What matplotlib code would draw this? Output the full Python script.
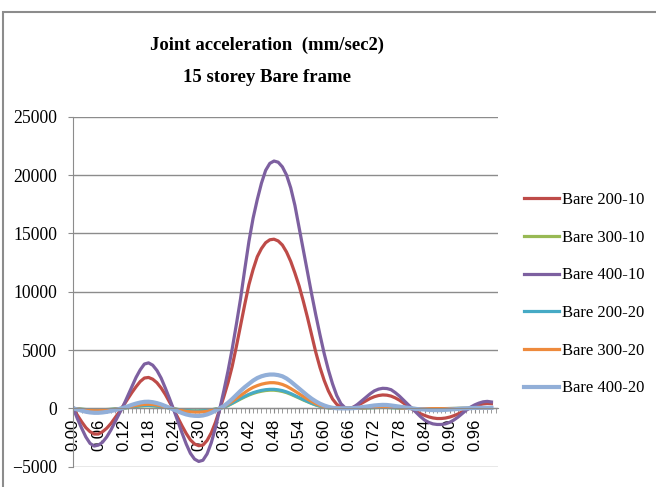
import matplotlib
matplotlib.use("Agg")
import matplotlib.pyplot as plt
from matplotlib.patches import Rectangle
from matplotlib.ticker import MultipleLocator

# time steps (sec), 0.00 .. 1.00
t = [round(0.01 * i, 2) for i in range(101)]

bare_200_10 = [0, -600, -1150, -1650, -2000, -2200, -2200, -2000, -1700, -1300,
               -800, -300, 250, 800, 1350, 1850, 2300, 2600, 2650, 2500,
               2200, 1750, 1200, 550, -100, -800, -1500, -2150, -2700, -3050,
               -3200, -3150, -2750, -2100, -1200, -100, 1000, 2200, 3600, 5300,
               7100, 8900, 10600, 11900, 13000, 13700, 14200, 14450, 14500, 14350,
               14000, 13400, 12600, 11600, 10500, 9200, 7800, 6300, 4800, 3500,
               2400, 1500, 800, 350, 100, 0, 0, 100, 250, 450,
               650, 850, 1000, 1100, 1150, 1130, 1050, 900, 700, 450,
               200, -50, -250, -450, -600, -730, -820, -870, -870, -830,
               -750, -630, -480, -300, -120, 50, 200, 300, 380, 420, 400]
bare_300_10 = [0, -40, -70, -100, -120, -130, -130, -120, -100, -80,
               -50, -20, 20, 60, 110, 160, 200, 225, 230, 215,
               180, 140, 90, 30, -40, -90, -140, -180, -200, -210,
               -210, -195, -165, -120, -60, 0, 90, 240, 420, 610,
               800, 980, 1140, 1280, 1390, 1470, 1530, 1560, 1560, 1520,
               1450, 1350, 1210, 1050, 890, 720, 570, 420, 290, 180,
               100, 45, 15, 0, 0, 0, 0, 10, 20, 30,
               40, 55, 65, 75, 80, 75, 65, 50, 35, 15,
               0, -10, -20, -25, -30, -30, -30, -30, -25, -20,
               -15, -10, -5, 0, 0, 5, 10, 15, 15, 15, 15]
bare_400_10 = [0, -900, -1700, -2450, -3000, -3230, -3150, -2900, -2450, -1850,
               -1150, -450, 250, 1050, 1850, 2650, 3300, 3800, 3900, 3700,
               3250, 2600, 1750, 850, -100, -1100, -2100, -3050, -3850, -4350,
               -4550, -4450, -3900, -2950, -1650, -100, 1500, 3200, 5100, 7200,
               9400, 11900, 14300, 16300, 17900, 19300, 20400, 21000, 21200, 21100,
               20700, 20000, 18900, 17400, 15500, 13600, 11700, 9800, 8000, 6300,
               4700, 3300, 2100, 1100, 400, 50, 0, 100, 350, 650,
               950, 1250, 1500, 1650, 1720, 1700, 1600, 1350, 1050, 700,
               350, 0, -350, -700, -1000, -1200, -1330, -1380, -1380, -1330,
               -1200, -1000, -750, -450, -150, 100, 300, 450, 560, 600, 550]
bare_200_20 = [0, -40, -80, -110, -140, -150, -150, -140, -120, -90,
               -60, -20, 20, 70, 130, 180, 220, 245, 250, 235,
               200, 150, 100, 30, -40, -100, -150, -190, -220, -235,
               -230, -215, -180, -130, -70, 0, 100, 260, 450, 650,
               850, 1030, 1200, 1340, 1450, 1540, 1600, 1630, 1630, 1590,
               1520, 1410, 1270, 1100, 930, 760, 600, 440, 300, 190,
               110, 50, 20, 0, 0, 0, 0, 10, 20, 30,
               50, 60, 70, 85, 90, 85, 70, 55, 40, 20,
               0, -10, -20, -25, -30, -30, -30, -30, -25, -20,
               -15, -10, -5, 0, 0, 5, 10, 15, 20, 20, 20]
bare_300_20 = [0, -50, -100, -140, -180, -200, -200, -180, -150, -120,
               -80, -30, 30, 100, 180, 250, 300, 340, 350, 330,
               280, 210, 130, 40, -50, -130, -200, -260, -300, -320,
               -320, -300, -250, -180, -100, 0, 150, 360, 600, 850,
               1100, 1350, 1600, 1800, 1950, 2070, 2150, 2200, 2200, 2150,
               2050, 1900, 1700, 1480, 1250, 1020, 800, 590, 400, 250,
               150, 70, 30, 0, 0, 0, 0, 10, 20, 40,
               60, 80, 100, 110, 120, 110, 100, 80, 50, 20,
               0, -10, -20, -20, -20, -20, -20, -20, -20, -20,
               -20, -15, -10, -5, 0, 0, 5, 10, 15, 20, 20]
bare_400_20 = [0, -100, -200, -290, -350, -380, -380, -350, -300, -230,
               -150, -50, 50, 170, 300, 410, 500, 560, 570, 530,
               450, 340, 200, 50, -100, -250, -400, -520, -600, -640,
               -650, -610, -520, -380, -200, 0, 200, 480, 800, 1150,
               1500, 1820, 2100, 2380, 2600, 2750, 2850, 2900, 2900, 2850,
               2750, 2560, 2300, 2000, 1700, 1400, 1100, 830, 600, 400,
               250, 130, 50, 10, 0, 0, 0, 20, 50, 100,
               150, 200, 250, 280, 300, 290, 250, 200, 150, 100,
               50, 0, -50, -80, -100, -130, -150, -150, -150, -130,
               -100, -80, -50, -20, 0, 20, 40, 50, 50, 50, 50]

series = [("Bare 200-10", bare_200_10, "#BE4B48"),
          ("Bare 300-10", bare_300_10, "#98B954"),
          ("Bare 400-10", bare_400_10, "#7D60A0"),
          ("Bare 200-20", bare_200_20, "#46AAC5"),
          ("Bare 300-20", bare_300_20, "#EE8A3C"),
          ("Bare 400-20", bare_400_20, "#92AFD8")]

serif = ["Liberation Serif", "DejaVu Serif"]
fig = plt.figure(figsize=(6.56, 4.87), dpi=100)
ax = fig.add_axes([73.3 / 656, 1 - 466.7 / 487, (497.7 - 73.3) / 656, (466.7 - 116.7) / 487])

for name, vals, col in series:
    lw = 3.0 if name == "Bare 400-20" else 2.3
    ax.plot(t, vals, color=col, lw=lw, label=name, solid_joinstyle="round")

ax.set_xlim(0, 1.015)
ax.set_ylim(-5000, 25000)
ax.yaxis.set_major_locator(MultipleLocator(5000))
ax.grid(axis="y", color="#8c8c8c", lw=1)
ax.set_axisbelow(True)

for s in ["top", "right"]:
    ax.spines[s].set_visible(False)
ax.spines["left"].set_color("#8c8c8c")
ax.spines["bottom"].set_color("#8c8c8c")
ax.spines["bottom"].set_position(("data", 0))

xt = [round(0.06 * i, 2) for i in range(17)]
ax.set_xticks(xt)
ax.set_xticklabels(["%.2f" % v for v in xt], rotation=90,
                   family=["Liberation Sans", "DejaVu Sans"], fontsize=12)
ax.xaxis.set_minor_locator(MultipleLocator(0.01))
ax.tick_params(axis="x", which="both", direction="out", length=3.5, color="#8c8c8c", pad=4)
ax.tick_params(axis="y", direction="out", length=3.5, color="#8c8c8c", pad=8)
for lab in ax.get_yticklabels():
    lab.set_family(serif)
    lab.set_fontsize(12.7)

fig.text(267 / 656, 1 - 45 / 487, "Joint acceleration  (mm/sec2)",
         ha="center", va="center", family=serif, fontweight="bold", fontsize=13.5)
fig.text(267 / 656, 1 - 77 / 487, "15 storey Bare frame",
         ha="center", va="center", family=serif, fontweight="bold", fontsize=13.5)

leg = fig.legend(loc="upper left", bbox_to_anchor=(524 / 656, 1 - 192 / 487),
                 frameon=False, prop={"family": serif, "size": 12},
                 borderpad=0, borderaxespad=0, handlelength=2.1,
                 handletextpad=0.15, labelspacing=1.3)

# chart area border
fig.patches.append(Rectangle((3 / 656, -0.1), 1.2, 1 - 12 / 487 + 0.1, transform=fig.transFigure,
                             fill=False, edgecolor="#8c8c8c", lw=1.5))

fig.savefig("out.png", dpi=100)
